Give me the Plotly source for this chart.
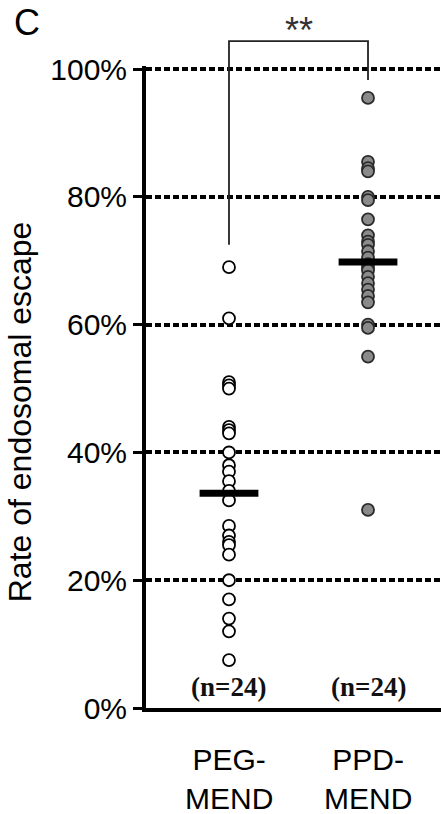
import plotly.graph_objects as go

categories = ["PEG-<br>MEND", "PPD-<br>MEND"]
n_labels = ["(n=24)", "(n=24)"]
peg_values = [69, 61, 51, 50.5, 50, 44, 43.5, 43, 40, 38, 37, 35.5, 34, 32.5,
              28.5, 27, 26, 25.5, 24, 20, 17, 14, 12, 7.5]
ppd_values = [95.5, 85.5, 84.5, 84, 80, 79.5, 76.5, 74, 73, 72.5, 71.5, 70.5,
              69.5, 69, 68.5, 67.5, 66.5, 65.5, 64.5, 63.5, 60, 59.5, 55, 31]
means = [33.6, 69.8]
y_ticks = [0, 20, 40, 60, 80, 100]
y_ticktext = ["0%", "20%", "40%", "60%", "80%", "100%"]
bracket_top = 104.4
bracket_left_end = 72.5
bracket_right_end = 98.3
sig_text = "**"
panel_label = "C"
y_title = "Rate of endosomal escape"

Y_MAX = 100.5

fig = go.Figure()
fig.add_trace(go.Scatter(
    x=[0] * len(peg_values), y=peg_values, mode="markers",
    marker=dict(size=12, color="white", line=dict(color="black", width=1.8)),
    cliponaxis=False, showlegend=False))
fig.add_trace(go.Scatter(
    x=[1] * len(ppd_values), y=ppd_values, mode="markers",
    marker=dict(size=12, color="#8a8a8a", line=dict(color="#2a2a2a", width=1.8)),
    cliponaxis=False, showlegend=False))
fig.add_trace(go.Scatter(
    x=[0, 1], y=means, mode="markers",
    marker=dict(symbol="line-ew", size=42, line=dict(color="black", width=7)),
    cliponaxis=False, showlegend=False))

font_sans = "Liberation Sans, Arial, sans-serif"

def py(v):
    return v / Y_MAX

# significance bracket
fig.add_shape(type="path", xref="x", yref="paper",
              path=f"M 0 {py(bracket_left_end)} L 0 {py(bracket_top)} L 1 {py(bracket_top)} L 1 {py(bracket_right_end)}",
              line=dict(color="#222222", width=1.8))
fig.add_annotation(x=0.5, xref="x", y=py(106.0), yref="paper", text=sig_text,
                   showarrow=False, font=dict(family=font_sans, size=36, color="#333333"),
                   yanchor="middle")
fig.add_annotation(x=-0.454, xref="paper", y=py(110.8), yref="paper", text=panel_label,
                   showarrow=False, xanchor="left", yanchor="top",
                   font=dict(family=font_sans, size=36, color="black"))
fig.add_annotation(x=-0.427, xref="paper", y=py(46.3), yref="paper", text=y_title,
                   textangle=-90, showarrow=False, xanchor="center", yanchor="middle",
                   font=dict(family=font_sans, size=32, color="black"))
for i, (cat, nl) in enumerate(zip(categories, n_labels)):
    fig.add_annotation(x=i, xref="x", y=py(3.3), yref="paper", text="<b>" + nl + "</b>", showarrow=False,
                       font=dict(family="Liberation Serif, Times New Roman, serif", size=27, color="#111111"),
                       yanchor="middle")
    fig.add_annotation(x=i, xref="x", y=py(-11.1), yref="paper", text=cat, showarrow=False,
                       font=dict(family=font_sans, size=30, color="black"),
                       yanchor="middle")

fig.update_layout(
    width=441, height=814,
    margin=dict(l=146, r=0, t=66, b=106),
    plot_bgcolor="white", paper_bgcolor="white",
    xaxis=dict(range=[-0.597, 1.525], showgrid=False, zeroline=False,
               showline=True, linecolor="black", linewidth=4,
               showticklabels=False, ticks=""),
    yaxis=dict(range=[0, Y_MAX], tickvals=y_ticks, ticktext=y_ticktext,
               showgrid=True, gridcolor="black", gridwidth=4, griddash="6px,3px",
               zeroline=False, showline=True, linecolor="black", linewidth=4,
               ticks="outside", ticklen=9, tickwidth=3, tickcolor="black",
               tickfont=dict(family=font_sans, size=30, color="black")),
)
fig.write_html("out.html")
